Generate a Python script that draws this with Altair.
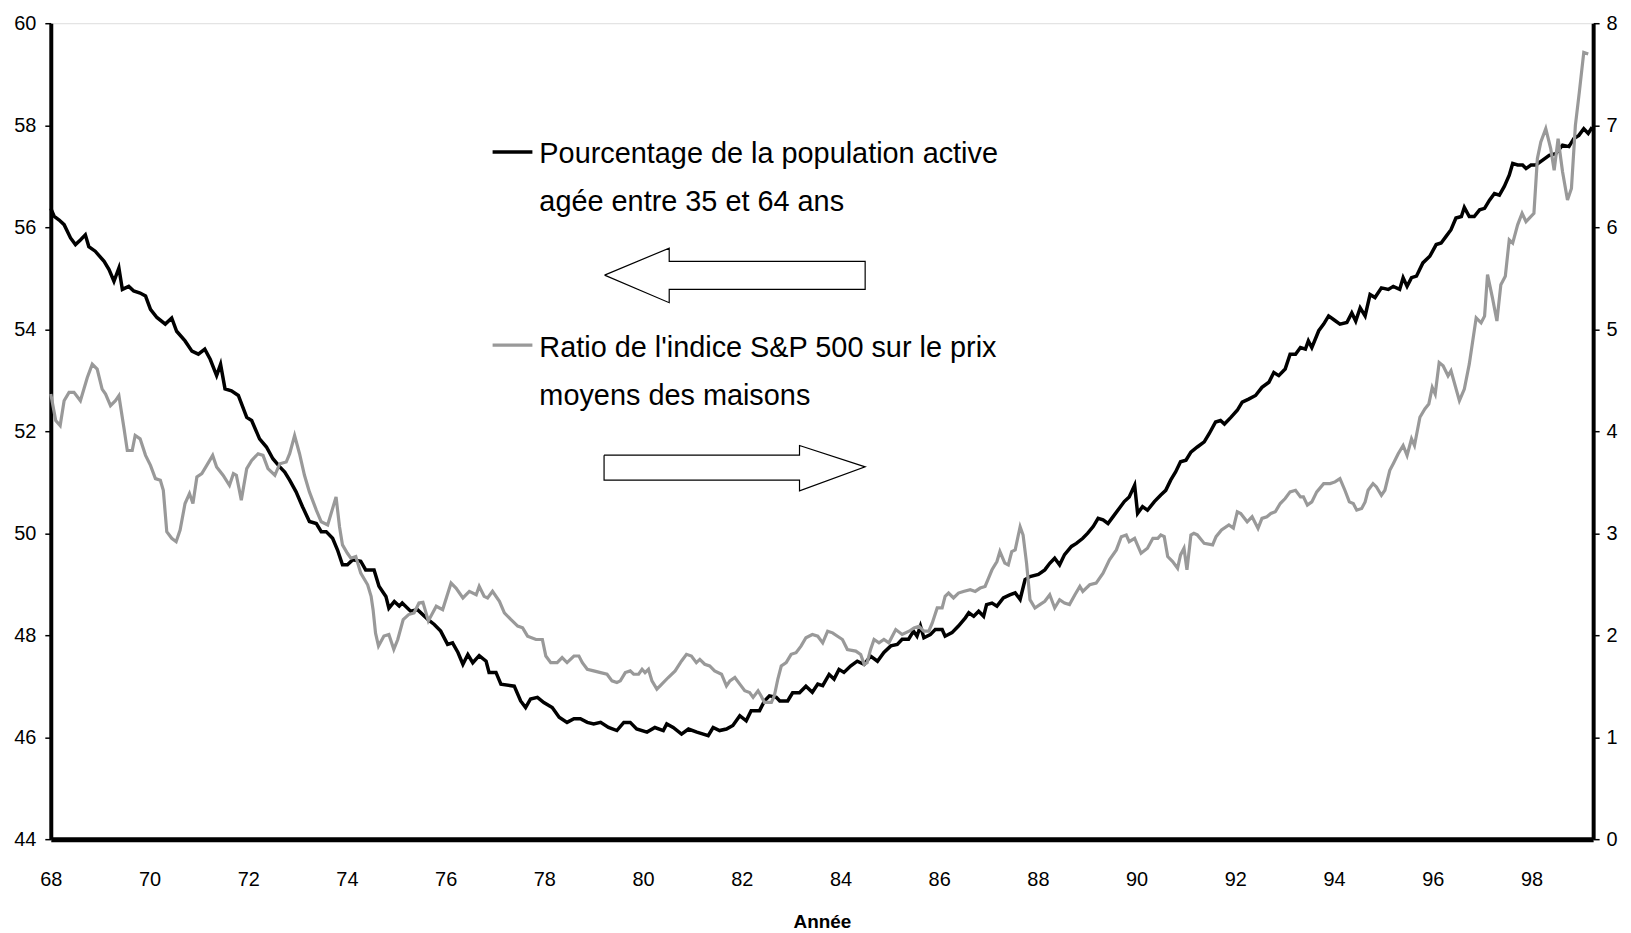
import altair as alt
import pandas as pd

# ---- data ----
black_years = [68.00, 68.07, 68.17, 68.27, 68.40, 68.50, 68.60, 68.70, 68.77, 68.90, 69.08, 69.18, 69.28, 69.38, 69.45, 69.58, 69.68, 69.81, 69.92, 70.02, 70.15, 70.32, 70.45, 70.55, 70.72, 70.86, 70.99, 71.12, 71.23, 71.36, 71.44, 71.53, 71.66, 71.80, 71.97, 72.07, 72.23, 72.37, 72.50, 72.64, 72.74, 72.84, 72.97, 73.10, 73.24, 73.38, 73.48, 73.58, 73.71, 73.81, 73.91, 74.01, 74.12, 74.28, 74.38, 74.55, 74.65, 74.79, 74.85, 74.96, 75.06, 75.12, 75.29, 75.43, 75.64, 75.77, 75.90, 76.04, 76.14, 76.25, 76.35, 76.45, 76.55, 76.68, 76.82, 76.88, 77.02, 77.12, 77.39, 77.52, 77.62, 77.72, 77.86, 77.99, 78.16, 78.30, 78.46, 78.60, 78.73, 78.87, 79.00, 79.14, 79.30, 79.47, 79.61, 79.74, 79.87, 80.08, 80.24, 80.41, 80.48, 80.61, 80.78, 80.92, 81.09, 81.22, 81.32, 81.42, 81.55, 81.69, 81.82, 81.96, 82.09, 82.19, 82.36, 82.46, 82.56, 82.70, 82.77, 82.93, 83.03, 83.17, 83.30, 83.43, 83.54, 83.64, 83.77, 83.87, 83.97, 84.07, 84.21, 84.34, 84.48, 84.61, 84.75, 84.88, 85.02, 85.15, 85.25, 85.38, 85.48, 85.55, 85.62, 85.69, 85.82, 85.92, 86.06, 86.12, 86.26, 86.39, 86.53, 86.60, 86.70, 86.80, 86.90, 86.96, 87.07, 87.17, 87.30, 87.43, 87.54, 87.64, 87.74, 87.84, 88.01, 88.14, 88.24, 88.34, 88.44, 88.54, 88.68, 88.78, 88.91, 89.01, 89.12, 89.22, 89.32, 89.42, 89.52, 89.65, 89.75, 89.85, 89.96, 90.02, 90.12, 90.22, 90.36, 90.49, 90.59, 90.69, 90.79, 90.89, 91.00, 91.10, 91.23, 91.37, 91.47, 91.60, 91.70, 91.78, 91.91, 92.04, 92.14, 92.27, 92.41, 92.54, 92.68, 92.78, 92.88, 93.01, 93.11, 93.22, 93.32, 93.42, 93.48, 93.55, 93.69, 93.79, 93.89, 93.99, 94.12, 94.26, 94.36, 94.44, 94.53, 94.63, 94.73, 94.83, 94.96, 95.10, 95.20, 95.33, 95.40, 95.48, 95.57, 95.67, 95.80, 95.94, 96.07, 96.17, 96.27, 96.37, 96.47, 96.58, 96.64, 96.74, 96.84, 96.95, 97.05, 97.15, 97.25, 97.35, 97.45, 97.55, 97.62, 97.72, 97.82, 97.89, 97.99, 98.09, 98.22, 98.36, 98.49, 98.63, 98.76, 98.86, 98.96, 99.06, 99.15, 99.23]
black_values = [56.37, 56.21, 56.14, 56.05, 55.79, 55.66, 55.75, 55.85, 55.62, 55.53, 55.33, 55.17, 54.94, 55.20, 54.78, 54.84, 54.75, 54.71, 54.65, 54.39, 54.23, 54.10, 54.22, 53.96, 53.77, 53.57, 53.51, 53.61, 53.41, 53.09, 53.31, 52.83, 52.79, 52.70, 52.27, 52.21, 51.85, 51.69, 51.46, 51.30, 51.20, 51.04, 50.81, 50.52, 50.23, 50.19, 50.03, 50.03, 49.90, 49.67, 49.38, 49.38, 49.48, 49.45, 49.28, 49.28, 48.96, 48.76, 48.53, 48.66, 48.57, 48.63, 48.47, 48.50, 48.31, 48.21, 48.08, 47.82, 47.85, 47.66, 47.43, 47.62, 47.46, 47.60, 47.49, 47.27, 47.27, 47.04, 47.00, 46.71, 46.58, 46.75, 46.78, 46.68, 46.58, 46.39, 46.29, 46.36, 46.36, 46.29, 46.26, 46.29, 46.19, 46.13, 46.29, 46.29, 46.16, 46.10, 46.19, 46.13, 46.26, 46.19, 46.06, 46.16, 46.10, 46.06, 46.03, 46.19, 46.13, 46.16, 46.23, 46.42, 46.32, 46.52, 46.52, 46.71, 46.81, 46.78, 46.71, 46.71, 46.87, 46.87, 47.00, 46.88, 47.04, 47.01, 47.23, 47.14, 47.33, 47.27, 47.40, 47.49, 47.43, 47.59, 47.49, 47.66, 47.79, 47.82, 47.92, 47.92, 48.08, 47.98, 48.18, 47.95, 48.01, 48.11, 48.11, 47.98, 48.05, 48.18, 48.34, 48.44, 48.37, 48.47, 48.37, 48.60, 48.63, 48.57, 48.73, 48.79, 48.83, 48.70, 49.09, 49.15, 49.19, 49.28, 49.41, 49.51, 49.38, 49.58, 49.74, 49.80, 49.90, 50.00, 50.13, 50.29, 50.26, 50.19, 50.32, 50.49, 50.62, 50.71, 50.94, 50.39, 50.52, 50.45, 50.62, 50.75, 50.84, 51.04, 51.20, 51.40, 51.43, 51.59, 51.69, 51.79, 51.95, 52.18, 52.21, 52.14, 52.27, 52.41, 52.57, 52.63, 52.70, 52.86, 52.96, 53.15, 53.09, 53.22, 53.51, 53.51, 53.64, 53.61, 53.77, 53.64, 53.97, 54.10, 54.26, 54.19, 54.10, 54.13, 54.32, 54.16, 54.42, 54.26, 54.68, 54.62, 54.81, 54.78, 54.84, 54.78, 55.01, 54.84, 55.01, 55.04, 55.30, 55.43, 55.66, 55.69, 55.82, 55.95, 56.18, 56.21, 56.39, 56.21, 56.21, 56.34, 56.37, 56.53, 56.66, 56.63, 56.80, 57.02, 57.25, 57.22, 57.22, 57.15, 57.22, 57.22, 57.31, 57.41, 57.44, 57.61, 57.58, 57.74, 57.80, 57.93, 57.84, 57.96]

gray_years = [68.00, 68.10, 68.19, 68.27, 68.37, 68.47, 68.60, 68.74, 68.84, 68.94, 69.04, 69.11, 69.21, 69.31, 69.38, 69.48, 69.55, 69.65, 69.71, 69.81, 69.92, 70.02, 70.12, 70.22, 70.28, 70.35, 70.45, 70.54, 70.62, 70.72, 70.81, 70.88, 70.96, 71.06, 71.16, 71.28, 71.36, 71.49, 71.62, 71.70, 71.76, 71.86, 71.97, 72.07, 72.20, 72.30, 72.40, 72.54, 72.64, 72.77, 72.84, 72.94, 73.04, 73.14, 73.24, 73.38, 73.48, 73.61, 73.78, 73.85, 73.91, 74.01, 74.08, 74.18, 74.28, 74.42, 74.49, 74.53, 74.58, 74.64, 74.75, 74.85, 74.95, 75.03, 75.14, 75.25, 75.36, 75.46, 75.54, 75.65, 75.81, 75.94, 76.11, 76.21, 76.35, 76.48, 76.62, 76.68, 76.78, 76.85, 76.95, 77.09, 77.19, 77.32, 77.46, 77.56, 77.66, 77.83, 77.96, 78.03, 78.13, 78.26, 78.36, 78.46, 78.60, 78.70, 78.77, 78.87, 79.00, 79.14, 79.27, 79.37, 79.47, 79.54, 79.64, 79.74, 79.81, 79.91, 79.98, 80.04, 80.11, 80.18, 80.28, 80.38, 80.51, 80.65, 80.78, 80.88, 80.98, 81.08, 81.15, 81.25, 81.35, 81.45, 81.59, 81.69, 81.76, 81.86, 81.96, 82.06, 82.16, 82.23, 82.33, 82.39, 82.46, 82.60, 82.66, 82.73, 82.80, 82.90, 83.00, 83.10, 83.20, 83.30, 83.43, 83.54, 83.64, 83.74, 83.84, 83.94, 84.04, 84.14, 84.31, 84.41, 84.48, 84.54, 84.61, 84.68, 84.78, 84.88, 84.98, 85.12, 85.25, 85.39, 85.49, 85.59, 85.69, 85.79, 85.86, 85.96, 86.06, 86.12, 86.19, 86.29, 86.39, 86.49, 86.63, 86.73, 86.83, 86.93, 87.00, 87.07, 87.17, 87.23, 87.33, 87.40, 87.47, 87.54, 87.64, 87.70, 87.77, 87.84, 87.94, 88.04, 88.14, 88.24, 88.34, 88.44, 88.54, 88.64, 88.75, 88.85, 88.91, 89.05, 89.18, 89.32, 89.45, 89.59, 89.69, 89.79, 89.85, 89.96, 90.09, 90.22, 90.33, 90.43, 90.49, 90.56, 90.63, 90.73, 90.83, 90.89, 90.96, 91.02, 91.10, 91.16, 91.23, 91.37, 91.54, 91.61, 91.72, 91.87, 91.96, 92.04, 92.11, 92.24, 92.34, 92.46, 92.54, 92.64, 92.72, 92.81, 92.91, 93.01, 93.11, 93.22, 93.32, 93.38, 93.46, 93.55, 93.65, 93.79, 93.92, 94.02, 94.12, 94.22, 94.31, 94.39, 94.46, 94.56, 94.63, 94.69, 94.79, 94.86, 94.96, 95.03, 95.13, 95.20, 95.30, 95.40, 95.48, 95.57, 95.63, 95.74, 95.84, 95.92, 95.99, 96.05, 96.13, 96.21, 96.31, 96.37, 96.54, 96.64, 96.74, 96.88, 96.98, 97.05, 97.11, 97.21, 97.30, 97.38, 97.47, 97.55, 97.62, 97.72, 97.81, 97.89, 98.05, 98.12, 98.19, 98.29, 98.39, 98.46, 98.54, 98.63, 98.73, 98.81, 98.89, 98.97, 99.06, 99.15]
gray_values = [4.364, 4.104, 4.055, 4.299, 4.381, 4.381, 4.299, 4.527, 4.657, 4.608, 4.413, 4.364, 4.250, 4.299, 4.348, 4.039, 3.811, 3.811, 3.958, 3.925, 3.763, 3.665, 3.535, 3.519, 3.421, 3.015, 2.950, 2.917, 3.031, 3.291, 3.389, 3.291, 3.551, 3.584, 3.665, 3.763, 3.649, 3.568, 3.470, 3.584, 3.568, 3.324, 3.633, 3.714, 3.779, 3.763, 3.633, 3.568, 3.681, 3.698, 3.779, 3.958, 3.779, 3.568, 3.405, 3.226, 3.112, 3.080, 3.356, 3.063, 2.885, 2.803, 2.755, 2.771, 2.608, 2.494, 2.381, 2.250, 2.020, 1.893, 1.991, 2.007, 1.861, 1.958, 2.153, 2.202, 2.218, 2.316, 2.323, 2.140, 2.284, 2.251, 2.511, 2.462, 2.365, 2.430, 2.397, 2.479, 2.381, 2.365, 2.430, 2.332, 2.219, 2.154, 2.089, 2.072, 1.991, 1.958, 1.958, 1.796, 1.731, 1.731, 1.780, 1.731, 1.796, 1.796, 1.731, 1.666, 1.650, 1.633, 1.617, 1.552, 1.536, 1.552, 1.633, 1.650, 1.617, 1.617, 1.666, 1.633, 1.666, 1.552, 1.471, 1.520, 1.585, 1.650, 1.747, 1.812, 1.796, 1.731, 1.763, 1.715, 1.698, 1.650, 1.617, 1.503, 1.552, 1.585, 1.520, 1.455, 1.438, 1.390, 1.455, 1.406, 1.341, 1.341, 1.406, 1.568, 1.698, 1.731, 1.812, 1.828, 1.893, 1.975, 2.007, 1.990, 1.925, 2.039, 2.023, 1.990, 1.958, 1.860, 1.844, 1.811, 1.714, 1.730, 1.860, 1.958, 1.925, 1.958, 1.925, 2.055, 2.007, 2.039, 2.072, 2.088, 2.039, 2.039, 2.120, 2.267, 2.267, 2.381, 2.413, 2.365, 2.413, 2.429, 2.446, 2.429, 2.462, 2.478, 2.560, 2.641, 2.722, 2.820, 2.706, 2.689, 2.820, 2.836, 3.063, 2.982, 2.706, 2.348, 2.267, 2.300, 2.332, 2.397, 2.267, 2.348, 2.316, 2.300, 2.397, 2.478, 2.429, 2.494, 2.511, 2.608, 2.738, 2.836, 2.966, 2.982, 2.917, 2.950, 2.803, 2.852, 2.950, 2.950, 2.982, 2.966, 2.771, 2.722, 2.657, 2.787, 2.852, 2.641, 2.982, 2.998, 2.983, 2.900, 2.885, 2.966, 3.031, 3.080, 3.050, 3.210, 3.193, 3.112, 3.161, 3.047, 3.145, 3.161, 3.193, 3.210, 3.291, 3.340, 3.405, 3.421, 3.356, 3.356, 3.275, 3.307, 3.405, 3.486, 3.486, 3.503, 3.535, 3.421, 3.307, 3.291, 3.226, 3.242, 3.307, 3.421, 3.486, 3.454, 3.372, 3.421, 3.616, 3.681, 3.779, 3.860, 3.763, 3.925, 3.860, 4.137, 4.218, 4.267, 4.429, 4.364, 4.673, 4.641, 4.543, 4.592, 4.299, 4.413, 4.657, 5.112, 5.063, 5.128, 5.535, 5.307, 5.080, 5.437, 5.518, 5.876, 5.844, 6.023, 6.137, 6.055, 6.137, 6.673, 6.836, 6.966, 6.771, 6.559, 6.868, 6.543, 6.267, 6.380, 6.998, 7.324, 7.714, 7.698]

x_ticks = [68, 70, 72, 74, 76, 78, 80, 82, 84, 86, 88, 90, 92, 94, 96, 98]
left_ticks = [44, 46, 48, 50, 52, 54, 56, 58, 60]
right_ticks = [0, 1, 2, 3, 4, 5, 6, 7, 8]

legend_black = ["Pourcentage de la population active", "agée entre 35 et 64 ans"]
legend_gray = ["Ratio de l'indice S&P 500 sur le prix", "moyens des maisons"]

# annotation arrows (outline vertices, in year / left-axis units)
arrow_left_x = [79.22, 80.53, 80.53, 84.50, 84.50, 80.53, 80.53, 79.22]
arrow_left_y = [55.06, 55.59, 55.33, 55.33, 54.78, 54.78, 54.52, 55.06]
arrow_right_x = [79.21, 83.17, 83.17, 84.50, 83.17, 83.17, 79.21, 79.21]
arrow_right_y = [51.53, 51.53, 51.72, 51.30, 50.83, 51.04, 51.04, 51.53]

FONT = "Liberation Sans"
GRAY = "#999999"
XTITLE = "Année"

df_black = pd.DataFrame({"annee": black_years, "val": black_values})
df_gray = pd.DataFrame({"annee": gray_years, "val": gray_values})
rows = []
for i, (ax_, ay_) in enumerate(zip(arrow_left_x, arrow_left_y)):
    rows.append({"arrow": "left", "i": i, "ax": ax_, "ay": ay_})
for i, (ax_, ay_) in enumerate(zip(arrow_right_x, arrow_right_y)):
    rows.append({"arrow": "right", "i": i, "ax": ax_, "ay": ay_})
df_arrows = pd.DataFrame(rows)

xscale = alt.Scale(domain=[68, 99.25], nice=False, zero=False)
yleft = alt.Scale(domain=[44, 60], nice=False, zero=False)
yright = alt.Scale(domain=[0, 8], nice=False, zero=False)

xaxis = alt.Axis(values=x_ticks, format="d", title=XTITLE, labelFont=FONT, labelFontSize=20,
                 labelColor="black", titleFont=FONT, titleFontSize=19, titleFontWeight="bold",
                 titleColor="black", domain=True, domainColor="black", domainWidth=5,
                 ticks=False, labelPadding=31, titlePadding=23, grid=False, labelFlush=False)

black = alt.Chart(df_black).mark_line(color="black", strokeWidth=3.5).encode(
    x=alt.X("annee:Q", scale=xscale, axis=xaxis),
    y=alt.Y("val:Q", scale=yleft, axis=alt.Axis(values=left_ticks, title=None, orient="left",
            labelFont=FONT, labelFontSize=20, labelColor="black", domainColor="black",
            domainWidth=4, tickColor="black", tickSize=6, tickWidth=1.5, labelPadding=9, grid=False)),
)

arrows = alt.Chart(df_arrows).mark_line(color="black", strokeWidth=1.2).encode(
    x=alt.X("ax:Q", scale=xscale, title=XTITLE),
    y=alt.Y("ay:Q", scale=yleft, title=None),
    detail="arrow:N",
    order="i:Q",
)

left_layer = alt.layer(black, arrows)

gray = alt.Chart(df_gray).mark_line(color=GRAY, strokeWidth=3.2).encode(
    x=alt.X("annee:Q", scale=xscale, title=XTITLE),
    y=alt.Y("val:Q", scale=yright, axis=alt.Axis(values=right_ticks, title=None, orient="right",
            labelFont=FONT, labelFontSize=20, labelColor="black", domainColor="black",
            domainWidth=4, tickColor="black", tickSize=6, tickWidth=1.5, labelPadding=7, grid=False)),
)

one = pd.DataFrame({"k": [0]})

def txt(s, x, y):
    return alt.Chart(one).mark_text(text=s, font=FONT, fontSize=29, align="left",
                                    baseline="middle", color="black").encode(
        x=alt.value(x), y=alt.value(y))

def sample(color, y):
    return alt.Chart(one).mark_rule(color=color, strokeWidth=3.5).encode(
        x=alt.value(444), x2=alt.value(484), y=alt.value(y))

legend = alt.layer(
    sample("black", 129.5), txt(legend_black[0], 491, 131.5), txt(legend_black[1], 491, 179.5),
    sample(GRAY, 323.5), txt(legend_gray[0], 491, 326.5), txt(legend_gray[1], 491, 374.5),
)

chart = alt.layer(left_layer, gray, legend).resolve_scale(y="independent").properties(
    width=1550, height=820,
    autosize=alt.AutoSizeParams(type="none"),
    padding={"left": 43, "top": 13, "right": 30, "bottom": 92},
).configure_view(stroke="black", strokeWidth=3.5).configure(background="white")

chart.save("out.html", embed_options={"renderer": "svg", "actions": False})
